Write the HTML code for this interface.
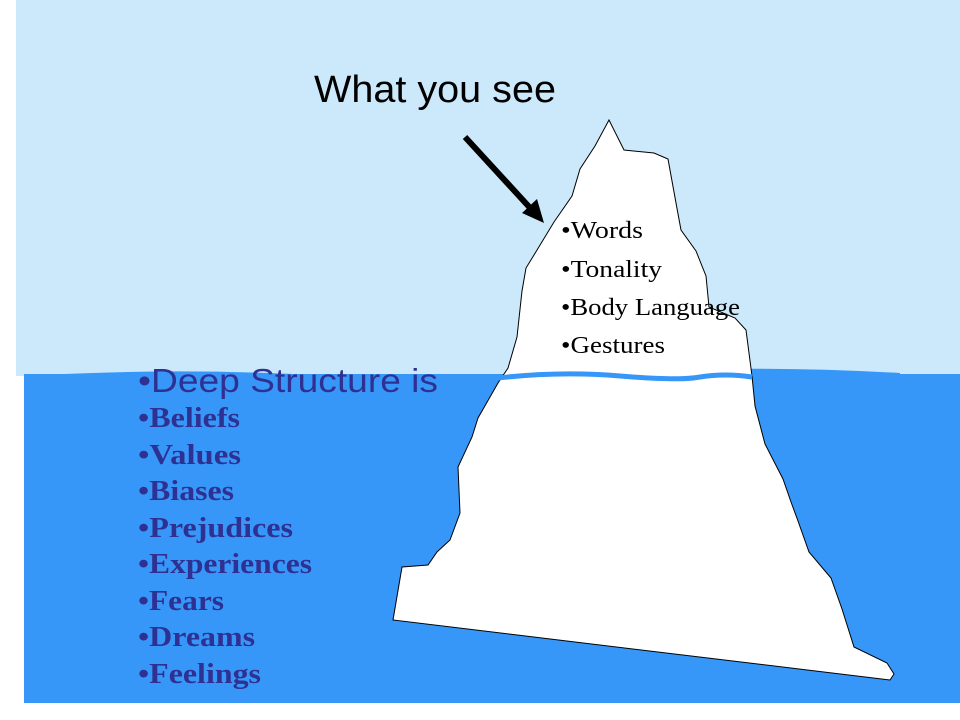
<!DOCTYPE html>
<html><head><meta charset="utf-8"><style>
html,body{margin:0;padding:0;background:#fff;width:960px;height:720px;overflow:hidden}
</style></head><body>
<svg width="960" height="720" xmlns="http://www.w3.org/2000/svg">
<rect x="16" y="0" width="944" height="376" fill="#cce9fb"/>
<rect x="24" y="374" width="936" height="329" fill="#3797f9"/>
<path d="M64,374 Q200,368 330,376 T600,374 T900,373 L900,378 L64,378Z" fill="#3797f9"/>
<path d="M393,620 L402,567 L428,565 L437,552 L450,540 L460,513 L458,467 L472,437 L478,418 L498,383 L508,368 L517,337 L522,291 L526,268 L534,255 L554,222 L572,196 L580,169 L595,146 L609,120 L624,150 L654,153 L668,159 L676,203 L681,230 L696,251 L706,276 L709,307 L735,318 L746,330 L752,376 L755,406 L765,444 L783,479 L791,502 L798,521 L809,552 L831,578 L842,609 L854,647 L887,663 L894,674 L890,680 Z" fill="#fff" stroke="#000" stroke-width="1"/>
<path d="M498,378 Q560,371 620,376 T700,377 Q725,373 752,377" fill="none" stroke="#3797f9" stroke-width="5"/>
<line x1="465" y1="137" x2="532" y2="210" stroke="#000" stroke-width="6"/>
<polygon points="544,223 522,213 537,199" fill="#000"/>
<text x="314" y="102" font-family="Liberation Sans, sans-serif" font-size="38" fill="#000" textLength="242" lengthAdjust="spacingAndGlyphs">What you see</text>
<g font-family="Liberation Serif, serif" font-size="24" fill="#000" lengthAdjust="spacingAndGlyphs">
<text x="561" y="238" textLength="82" lengthAdjust="spacingAndGlyphs">•Words</text>
<text x="561" y="277" textLength="101" lengthAdjust="spacingAndGlyphs">•Tonality</text>
<text x="561" y="315" textLength="179" lengthAdjust="spacingAndGlyphs">•Body Language</text>
<text x="561" y="353" textLength="104" lengthAdjust="spacingAndGlyphs">•Gestures</text>
</g>
<text x="138" y="392" font-family="Liberation Sans, sans-serif" font-size="33" fill="#2e3192" textLength="300" lengthAdjust="spacingAndGlyphs">•Deep Structure is</text>
<g font-family="Liberation Serif, serif" font-size="28" font-weight="bold" fill="#2e3192">
<text x="138" y="427" textLength="102" lengthAdjust="spacingAndGlyphs">•Beliefs</text>
<text x="138" y="464" textLength="103" lengthAdjust="spacingAndGlyphs">•Values</text>
<text x="138" y="500" textLength="96" lengthAdjust="spacingAndGlyphs">•Biases</text>
<text x="138" y="537" textLength="155" lengthAdjust="spacingAndGlyphs">•Prejudices</text>
<text x="138" y="573" textLength="174" lengthAdjust="spacingAndGlyphs">•Experiences</text>
<text x="138" y="610" textLength="86" lengthAdjust="spacingAndGlyphs">•Fears</text>
<text x="138" y="646" textLength="117" lengthAdjust="spacingAndGlyphs">•Dreams</text>
<text x="138" y="683" textLength="123" lengthAdjust="spacingAndGlyphs">•Feelings</text>
</g>
</svg>
</body></html>
